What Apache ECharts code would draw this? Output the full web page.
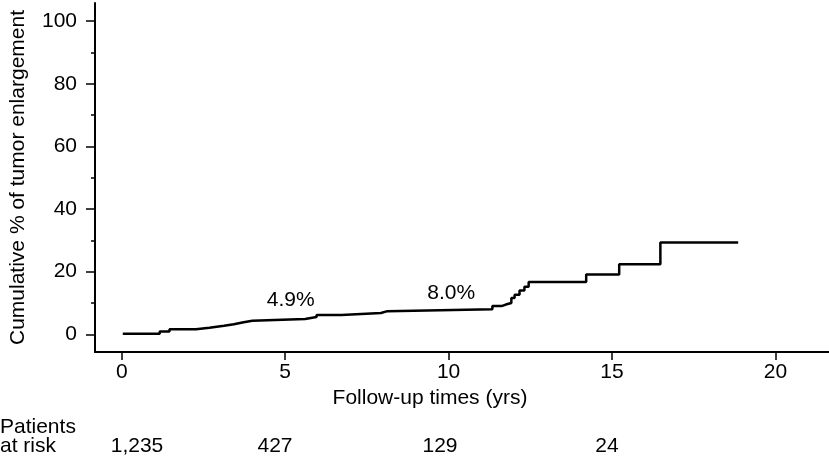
<!DOCTYPE html>
<html><head><meta charset="utf-8">
<script src="https://cdn.jsdelivr.net/npm/echarts@6/dist/echarts.min.js"></script>
<style>html,body{margin:0;padding:0;background:#fff}#c{width:829px;height:458px}</style>
</head><body><div id="c"></div>
<script>
// Kaplan-Meier style cumulative curve (years, %)
const times  = [0.03, 1.16, 1.46, 2.27, 2.68, 3.13, 3.43, 3.69, 3.99, 5.61, 5.96, 6.72, 7.93, 8.13, 11.34, 11.62, 11.75, 11.92, 12.02, 12.17, 12.32, 12.45, 14.21, 15.22, 16.48, 18.86];
const cumPct = [0.2,  0.9,  1.6,  2.1,  2.7,  3.2,  3.8,  4.3,  4.9,  5.5,  6.2,  6.8,  7.4,  8.0,  9.0,   9.5,   10.0,  11.6,  12.6,  14.0,  15.2,  16.7,  19.1,  22.4,  29.3,  29.3];
const xTicks = [0, 5, 10, 15, 20];
const yLabels = [0, 20, 40, 60, 80, 100];
const yMinor = [10, 30, 50, 70, 90];
const annotTimes = [5.17, 10.08];
const annotValues = [10.96, 13.1];
const annotTexts = ['4.9%', '8.0%'];
const riskCounts = ['1,235', '427', '129', '24'];
const xTitle = 'Follow-up times (yrs)';
const yTitle = 'Cumulative % of tumor enlargement';

const FONT = "'Liberation Sans', Arial, Helvetica, sans-serif";
const FS = 21;
const chart = echarts.init(document.getElementById('c'), null, {renderer: 'canvas'});
const riskX = [137, 275, 440, 607];
const option = {
  animation: false,
  backgroundColor: '#fff',
  grid: {left: 88, right: 0, top: 3, bottom: 106, containLabel: false},
  xAxis: {
    type: 'value', min: -0.82, max: 21.64,
    axisLine: {show: true, onZero: false, lineStyle: {color: '#000', width: 2}},
    axisTick: {show: true, customValues: xTicks, length: 8, lineStyle: {color: '#000', width: 1.5}},
    axisLabel: {show: true, customValues: xTicks, margin: 10, color: '#000', fontSize: FS, fontFamily: FONT},
    splitLine: {show: false}
  },
  yAxis: [{
    type: 'value', min: -5.65, max: 105.8,
    name: yTitle, nameLocation: 'middle', nameGap: 66, nameRotate: 90,
    nameTextStyle: {color: '#000', fontSize: FS, fontFamily: FONT},
    axisLine: {show: true, onZero: false, lineStyle: {color: '#000', width: 2}},
    axisTick: {show: true, customValues: yLabels, length: 9, lineStyle: {color: '#000', width: 1.5}},
    axisLabel: {show: true, customValues: yLabels, margin: 18, color: '#000', fontSize: FS, fontFamily: FONT},
    splitLine: {show: false}
  }, {
    type: 'value', min: -5.65, max: 105.8, position: 'left',
    axisLine: {show: false, onZero: false},
    axisTick: {show: true, customValues: yMinor, length: 4, lineStyle: {color: '#000', width: 1.5}},
    axisLabel: {show: false},
    splitLine: {show: false}
  }],
  series: [{
    type: 'line', step: 'end', showSymbol: false, symbol: 'none',
    lineStyle: {color: '#000', width: 2.5},
    data: times.map((t, i) => [t, cumPct[i]])
  }, {
    type: 'scatter', symbolSize: 0, itemStyle: {opacity: 1},
    label: {show: true, position: 'inside', color: '#000', opacity: 1, fontSize: FS, fontFamily: FONT,
      formatter: p => annotTexts[p.dataIndex]},
    data: annotTimes.map((t, i) => [t, annotValues[i]])
  }],
  graphic: [
    {type: 'text', x: 430, y: 398, style: {text: xTitle, fill: '#000', font: FS + 'px ' + FONT, textAlign: 'center', textVerticalAlign: 'middle'}},
    {type: 'text', x: 0, y: 427, style: {text: 'Patients', fill: '#000', font: FS + 'px ' + FONT, textAlign: 'left', textVerticalAlign: 'middle'}},
    {type: 'text', x: 0, y: 446, style: {text: 'at risk', fill: '#000', font: FS + 'px ' + FONT, textAlign: 'left', textVerticalAlign: 'middle'}}
  ].concat(riskCounts.map((s, i) => ({
    type: 'text', x: riskX[i], y: 446,
    style: {text: s, fill: '#000', font: FS + 'px ' + FONT, textAlign: 'center', textVerticalAlign: 'middle'}
  })))
};
chart.setOption(option);
</script>
</body></html>
